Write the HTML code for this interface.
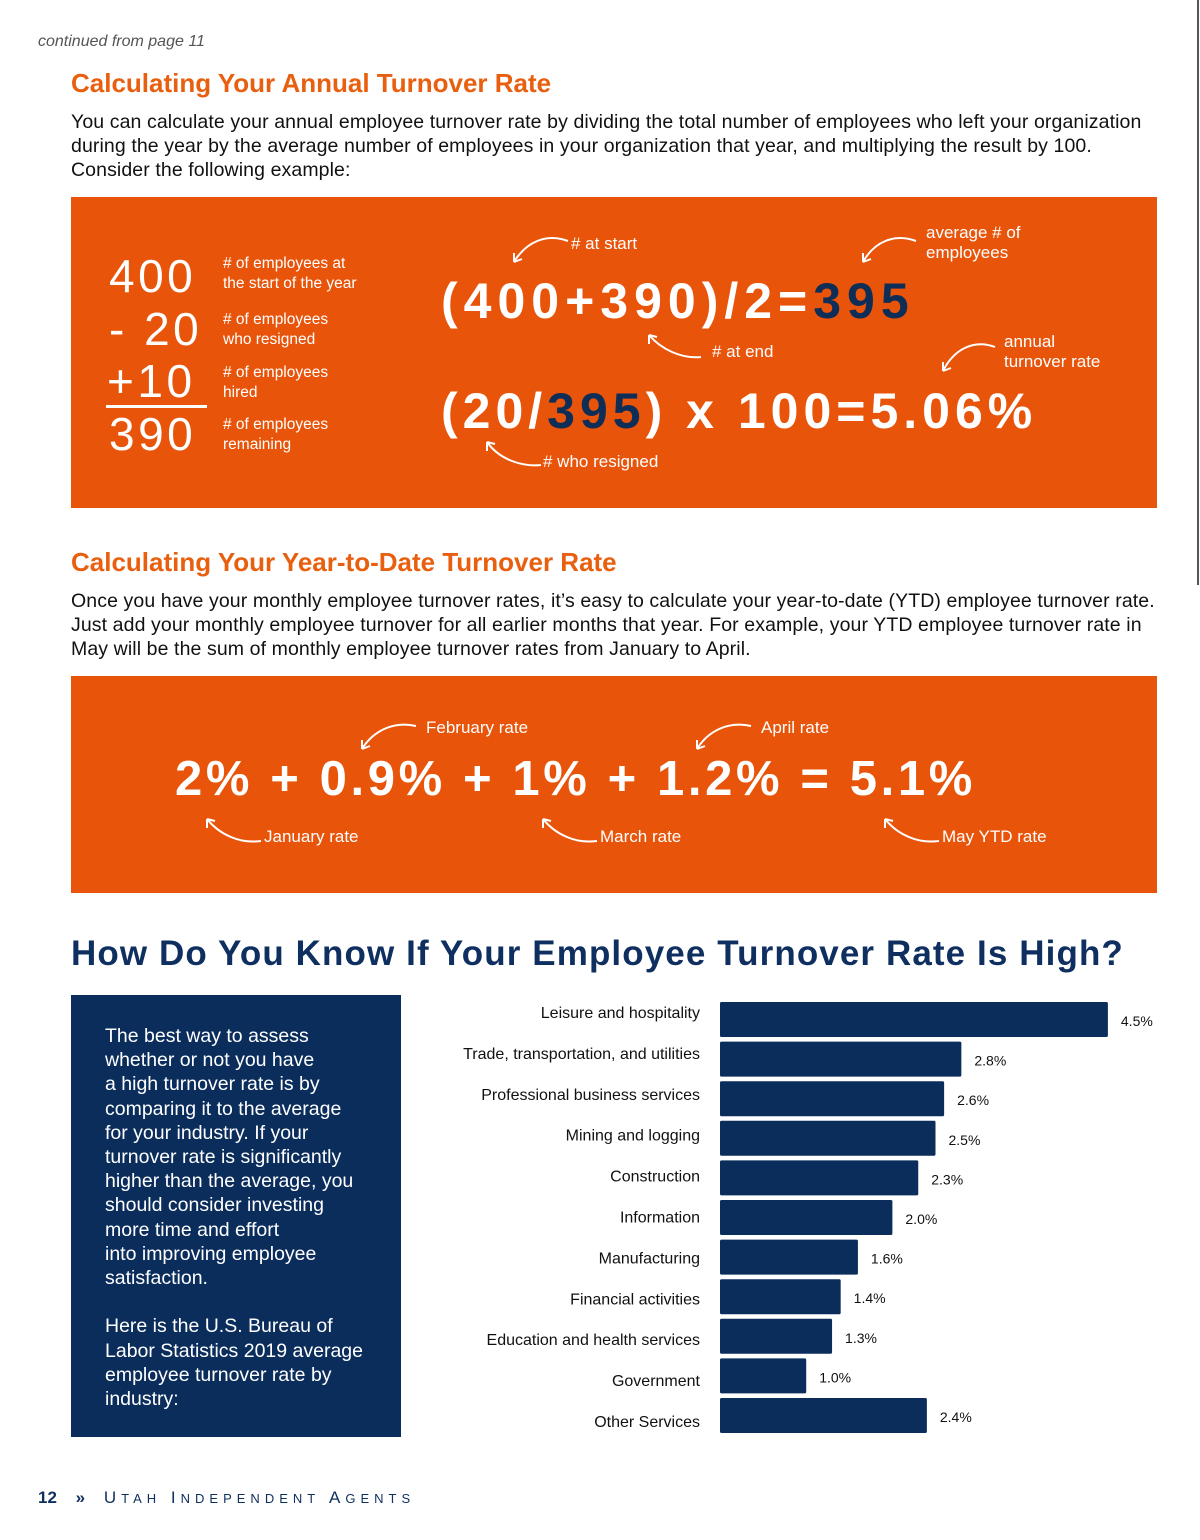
<!DOCTYPE html>
<html><head><meta charset="utf-8"><style>
*{margin:0;padding:0;box-sizing:border-box}
body{width:1200px;height:1540px;background:#fff;position:relative;font-family:"Liberation Sans",sans-serif;overflow:hidden}
.a{position:absolute;white-space:nowrap}
.h{color:#e8600f;font-weight:bold;font-size:26px;left:71px}
.p{left:71px;font-size:19.5px;line-height:24px;color:#111;white-space:nowrap;letter-spacing:0.1px}
.box{position:absolute;left:71px;width:1086px;background:#e8540a}
.big{position:absolute;color:#fff;font-size:46px;letter-spacing:3.5px}
.sm{position:absolute;color:#fff;font-size:15.5px;line-height:20px;white-space:nowrap}
.an{position:absolute;color:#fff;font-size:17px;white-space:nowrap}
.eq{position:absolute;color:#fff;font-size:50px;letter-spacing:4px;font-weight:bold;white-space:nowrap}
.nv{color:#0e2d57}
</style></head><body>
<div class="a" style="left:1197px;top:0;width:2px;height:585px;background:#555"></div>
<div class="a" style="left:38px;top:33px;font-size:16px;font-style:italic;color:#555">continued from page 11</div>
<div class="a h" style="top:68px">Calculating Your Annual Turnover Rate</div>
<div class="a p" style="top:110px">You can calculate your annual employee turnover rate by dividing the total number of employees who left your organization<br>during the year by the average number of employees in your organization that year, and multiplying the result by 100.<br>Consider the following example:</div>

<div class="box" style="top:197px;height:311px">
  <div class="big" style="left:38px;top:52px">400</div>
  <div class="big" style="left:38px;top:105px">- 20</div>
  <div class="big" style="left:36px;top:157px">+10</div>
  <div class="a" style="left:35px;top:208px;width:101px;height:3px;background:#fff"></div>
  <div class="big" style="left:38px;top:210px">390</div>
  <div class="sm" style="left:152px;top:57px"># of employees at<br>the start of the year</div>
  <div class="sm" style="left:152px;top:113px"># of employees<br>who resigned</div>
  <div class="sm" style="left:152px;top:166px"># of employees<br>hired</div>
  <div class="sm" style="left:152px;top:218px"># of employees<br>remaining</div>
  <div class="eq" style="left:370px;top:75px;letter-spacing:6px">(400+390)/2=<span class="nv">395</span></div>
  <div class="eq" style="left:370px;top:185px;letter-spacing:5px">(20/<span class="nv">395</span>) x 100=5.06%</div>
  <div class="an" style="left:500px;top:37px"># at start</div>
  <div class="an" style="left:641px;top:145px"># at end</div>
  <div class="an" style="left:472px;top:255px"># who resigned</div>
  <div class="an" style="left:855px;top:26px;line-height:20px">average # of<br>employees</div>
  <div class="an" style="left:933px;top:135px;line-height:20px">annual<br>turnover rate</div>
  <svg class="a" style="left:0;top:0" width="1086" height="311" fill="none" stroke="#fff" stroke-width="2">
    <path d="M497 44 C475 36 455 45 443 65 M443 65 l0 -9 M443 65 l8 -3"/>
    <path d="M845 44 C823 36 803 45 792 65 M792 65 l0 -9 M792 65 l8 -3"/>
    <path d="M630 160 C610 162 590 152 578 138 M578 138 l0 9 M578 138 l8 2"/>
    <path d="M924 150 C903 142 883 152 872 174 M872 174 l0 -9 M872 174 l8 -3"/>
    <path d="M470 268 C450 270 428 262 416 245 M416 245 l0 9 M416 245 l8 2"/>
  </svg>
</div>

<div class="a h" style="top:547px">Calculating Your Year-to-Date Turnover Rate</div>
<div class="a p" style="top:589px">Once you have your monthly employee turnover rates, it’s easy to calculate your year-to-date (YTD) employee turnover rate.<br>Just add your monthly employee turnover for all earlier months that year. For example, your YTD employee turnover rate in<br>May will be the sum of monthly employee turnover rates from January to April.</div>

<div class="box" style="top:676px;height:217px">
  <div class="eq" style="left:104px;top:75px;letter-spacing:3.6px;font-size:49px">2% + 0.9% + 1% + 1.2% = 5.1%</div>
  <div class="an" style="left:355px;top:42px">February rate</div>
  <div class="an" style="left:690px;top:42px">April rate</div>
  <div class="an" style="left:193px;top:151px">January rate</div>
  <div class="an" style="left:529px;top:151px">March rate</div>
  <div class="an" style="left:871px;top:151px">May YTD rate</div>
  <svg class="a" style="left:0;top:0" width="1086" height="217" fill="none" stroke="#fff" stroke-width="2">
    <path d="M345 50 C322 45 302 55 291 73 M291 73 l0 -9 M291 73 l8 -3"/>
    <path d="M680 50 C657 45 637 55 626 73 M626 73 l0 -9 M626 73 l8 -3"/>
    <path d="M190 165 C168 168 148 158 136 143 M136 143 l0 9 M136 143 l8 2"/>
    <path d="M526 165 C504 168 484 158 472 143 M472 143 l0 9 M472 143 l8 2"/>
    <path d="M868 165 C846 168 826 158 814 143 M814 143 l0 9 M814 143 l8 2"/>
  </svg>
</div>

<div class="a" style="left:71px;top:934px;font-size:35px;font-weight:bold;color:#0e2f5f;letter-spacing:1.1px">How Do You Know If Your Employee Turnover Rate Is High?</div>
<div class="a" style="left:71px;top:995px;width:330px;height:442px;background:#0b2d5c;color:#fff;font-size:19.5px;line-height:24.2px;padding:29px 0 0 34px;white-space:nowrap">The best way to assess<br>whether or not you have<br>a high turnover rate is by<br>comparing it to the average<br>for your industry. If your<br>turnover rate is significantly<br>higher than the average, you<br>should consider investing<br>more time and effort<br>into improving employee<br>satisfaction.<br><br>Here is the U.S. Bureau of<br>Labor Statistics 2019 average<br>employee turnover rate by<br>industry:</div>

<svg class="a" style="left:0;top:0" width="1200" height="1540" id="chart"></svg>

<div class="a" style="left:38px;top:1488px;font-size:17px;color:#0e2f5f">
<b>12</b> <b style="margin-left:14px">»</b> <span style="margin-left:14px;font-size:17px;letter-spacing:5px">U<span style="font-size:13px">TAH</span> I<span style="font-size:13px">NDEPENDENT</span> A<span style="font-size:13px">GENTS</span></span></div>

<script>
const categories=["Leisure and hospitality","Trade, transportation, and utilities","Professional business services","Mining and logging","Construction","Information","Manufacturing","Financial activities","Education and health services","Government","Other Services"];
const values=[4.5,2.8,2.6,2.5,2.3,2.0,1.6,1.4,1.3,1.0,2.4];
const valueLabels=["4.5%","2.8%","2.6%","2.5%","2.3%","2.0%","1.6%","1.4%","1.3%","1.0%","2.4%"];
const svg=document.getElementById('chart');
const NS="http://www.w3.org/2000/svg";
const x0=720,pxPer=86.2,y0=1002,pitch=39.6,bh=35,lblY0=1018,lblPitch=40.9;
const xs=v=>x0+v*pxPer;
const ys=i=>y0+i*pitch;
categories.forEach((c,i)=>{
  const r=document.createElementNS(NS,'rect');
  r.setAttribute('x',x0);r.setAttribute('y',ys(i));
  r.setAttribute('width',xs(values[i])-x0);r.setAttribute('height',bh);
  r.setAttribute('fill','#0a2d5c');r.setAttribute('rx',1.5);
  
  
  svg.appendChild(r);
  const t=document.createElementNS(NS,'text');
  t.setAttribute('x',700);t.setAttribute('y',lblY0+i*lblPitch);
  t.setAttribute('text-anchor','end');t.setAttribute('font-size','16');t.setAttribute('fill','#111');
  t.setAttribute('font-family','Liberation Sans, sans-serif');
  t.textContent=c;
  
  
  svg.appendChild(t);
  const v=document.createElementNS(NS,'text');
  v.setAttribute('x',xs(values[i])+13);v.setAttribute('y',ys(i)+24);
  v.setAttribute('font-size','14');v.setAttribute('fill','#111');
  v.setAttribute('font-family','Liberation Sans, sans-serif');
  v.textContent=valueLabels[i];
  
  
  svg.appendChild(v);
});
</script>
</body></html>
